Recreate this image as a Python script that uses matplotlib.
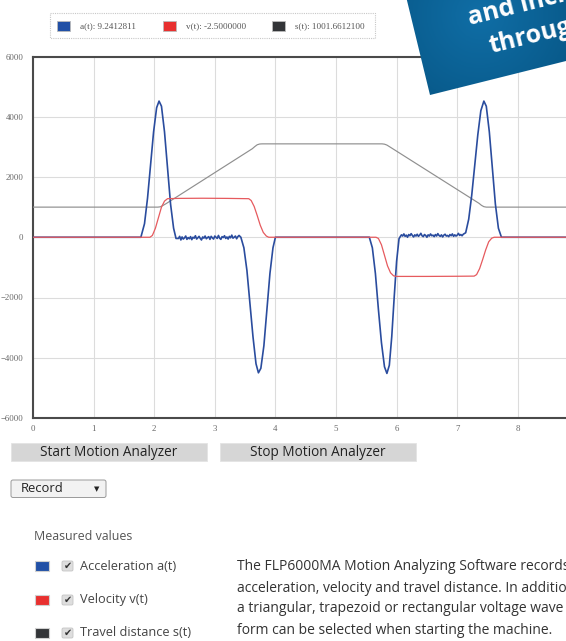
import numpy as np
import matplotlib.pyplot as plt
from matplotlib.patches import Polygon, Rectangle, FancyBboxPatch

# ---- data ----
# acceleration a(t): key points of the four pulses, noisy plateaus in between
acc_t_pulse1 = [0.0, 1.78, 1.84, 1.89, 1.94, 1.99, 2.04, 2.08, 2.12, 2.17, 2.22, 2.27, 2.32, 2.36]
acc_v_pulse1 = [0, 0, 450, 1300, 2400, 3500, 4300, 4520, 4350, 3500, 2300, 1100, 300, -40]
acc_noise1 = [-40, 30, -90, 10, -60, -20, 40, -70, -10, -50, 20, -80, 0, -30, 50, -60,
              -20, 30, -40, -90, 10, -30, 40, -50, -10, 20, -70, 30, -20, -60, 40, 0,
              -40, 60, -30, -70, 20, -10, 50, -40, 10, -60, 30, -20, 70, -30, 0, 40,
              -50, 20, 60]
acc_t_pulse2 = [3.43, 3.48, 3.53, 3.58, 3.63, 3.68, 3.72, 3.76, 3.81, 3.86, 3.91, 3.96, 4.00,
                5.55, 5.60, 5.65, 5.70, 5.75, 5.80, 5.84, 5.88, 5.92, 5.96, 6.00, 6.04]
acc_v_pulse2 = [0, -350, -1100, -2200, -3300, -4200, -4500, -4350, -3600, -2400, -1200, -350, 0,
                0, -350, -1200, -2400, -3500, -4300, -4520, -4250, -3300, -2000, -800, -50]
acc_noise2 = [20, 80, 40, 110, 30, 70, 0, 90, 50, 120, 60, 10, 80, 40, 100, 30, 70, 130,
              50, 20, 90, 60, 0, 80, 40, 110, 50, 70, 20, 90, 40, 120, 60, 30, 80, 10,
              70, 100, 40, 60, 20, 90, 50, 110, 30, 80, 40, 70, 130, 60, 90, 50, 100]
acc_t_pulse3 = [7.14, 7.19, 7.24, 7.29, 7.34, 7.39, 7.44, 7.48, 7.53, 7.58, 7.63, 7.68, 7.73, 10.0]
acc_v_pulse3 = [150, 600, 1400, 2400, 3400, 4200, 4520, 4350, 3500, 2300, 1100, 300, 0, 0]

# velocity v(t)
vel_t = [0.0, 1.93, 1.97, 2.02, 2.07, 2.12, 2.17, 2.22, 2.40, 2.80, 3.20, 3.56,
         3.60, 3.65, 3.70, 3.75, 3.80, 3.85, 3.89, 5.66, 5.70, 5.75, 5.80, 5.85,
         5.90, 5.95, 6.00, 6.50, 7.00, 7.28, 7.32, 7.37, 7.42, 7.47, 7.52, 7.57, 7.61, 10.0]
vel_v = [0, 0, 60, 300, 650, 1000, 1200, 1280, 1290, 1295, 1290, 1280,
         1220, 1020, 720, 400, 160, 40, 0, 0, -40, -250, -600, -950,
         -1180, -1280, -1300, -1300, -1295, -1290, -1240, -1040, -740, -420, -150, -30, 0, 0]

# travel distance s(t)
dist_t = [0.0, 2.06, 2.10, 2.14, 2.20, 3.62, 3.66, 3.70, 3.74, 3.78,
          5.76, 5.80, 5.84, 5.88, 7.36, 7.40, 7.44, 7.48, 10.0]
dist_v = [1000, 1000, 1010, 1050, 1120, 2940, 3010, 3070, 3095, 3100,
          3100, 3090, 3060, 3010, 1126, 1060, 1015, 1000, 1000]

x_ticks = [0, 1, 2, 3, 4, 5, 6, 7, 8]
y_ticks = [-6000, -4000, -2000, 0, 2000, 4000, 6000]

legend_labels = ['a(t): 9.2412811', 'v(t): -2.5000000', 's(t): 1001.6612100']
series_names = ['Acceleration a(t)', 'Velocity v(t)', 'Travel distance s(t)']
series_colors = ['#2150a6', '#e8302f', '#333538']

paragraph = ['The FLP6000MA Motion Analyzing Software records',
             'acceleration, velocity and travel distance. In addition',
             'a triangular, trapezoid or rectangular voltage wave',
             'form can be selected when starting the machine.']

# assemble acceleration series
acc_t = np.concatenate([acc_t_pulse1, np.linspace(2.40, 3.40, len(acc_noise1)),
                        acc_t_pulse2, np.linspace(6.06, 7.10, len(acc_noise2)), acc_t_pulse3])
acc_v = np.concatenate([acc_v_pulse1, acc_noise1, acc_v_pulse2, acc_noise2, acc_v_pulse3])

W, H = 566, 641
fig = plt.figure(figsize=(W / 100, H / 100), dpi=100)

# chart axes (wider than the figure - it is cut off on the right like the screenshot)
px_unit = 60.6
ax = fig.add_axes([33 / W, (H - 418) / H, 10 * px_unit / W, (418 - 56.5) / H])
ax.plot(dist_t, dist_v, color='#8f8f8f', lw=0.85, zorder=3)
ax.plot(acc_t, acc_v, color='#2a4c9e', lw=1.2, zorder=4)
ax.plot(vel_t, vel_v, color='#e65a5e', lw=0.9, zorder=5)

ax.set_xlim(0, 10)
ax.set_ylim(-6000, 6000)
ax.set_xticks(x_ticks)
ax.set_yticks(y_ticks)
ax.xaxis.grid(True, color='#dcdcdc', lw=0.8)
ax.yaxis.grid(True, color='#dcdcdc', lw=0.8)
# grid line at 9 has no label in the screenshot
ax.axvline(9, color='#dcdcdc', lw=0.8, zorder=0)
ax.tick_params(length=0, labelsize=6.3, labelcolor='#666666')
ax.tick_params(axis='y', pad=7)
ax.tick_params(axis='x', pad=5)
for lab in ax.get_xticklabels() + ax.get_yticklabels():
    lab.set_family('Liberation Serif')
for side in ['left', 'top', 'bottom']:
    ax.spines[side].set_color('#4a4a4a')
    ax.spines[side].set_linewidth(1.5)
ax.spines['right'].set_visible(False)

# overlay in pixel coordinates for the page elements
ui = fig.add_axes([0, 0, 1, 1])
ui.patch.set_alpha(0)
ui.axis('off')

# legend box on top
ui.add_patch(Rectangle((50, 13), 325, 25, fill=False, ec='#c8c8c8', lw=0.8, ls=(0, (1, 1))))
for i, (lab, col) in enumerate(zip(legend_labels, series_colors)):
    x0 = [57, 163, 272][i]
    ui.add_patch(Rectangle((x0, 21), 13, 10, fc=col, ec='#bbbbbb', lw=0.6))
    ui.text(x0 + 23, 26.5, lab, family='Liberation Serif', fontsize=6.6,
            color='#555555', va='center', ha='left')

# buttons
for x0, txt in [(11, 'Start Motion Analyzer'), (220, 'Stop Motion Analyzer')]:
    ui.add_patch(Rectangle((x0, 443), 196, 17.5, fc='#d6d6d6', ec='#e4e4e4', lw=0.6))
    ui.text(x0 + 98, 452, txt, family='Open Sans', fontsize=9.8, color='#222222',
            ha='center', va='center')

# dropdown
ui.add_patch(FancyBboxPatch((11, 480), 95, 17.5, boxstyle='round,pad=0,rounding_size=2',
                            fc='#f2f2f2', ec='#9a9a9a', lw=0.7))
ui.text(21, 489, 'Record', family='Open Sans', fontsize=9.4, color='#222222', va='center')
ui.text(97, 489, '\u25BC', family='DejaVu Sans', fontsize=5, color='#222222',
        ha='center', va='center')

# measured values list
ui.text(34, 537, 'Measured values', family='Open Sans', fontsize=8.9, color='#555555',
        va='center')
for y, name, col in zip([566, 600, 633], series_names, series_colors):
    ui.add_patch(Rectangle((35, y - 5), 14, 10, fc=col, ec='#d0d0d0', lw=0.8))
    ui.add_patch(FancyBboxPatch((62, y - 5), 11, 10, boxstyle='round,pad=0,rounding_size=1.5',
                                fc='#dedede', ec='#c4c4c4', lw=0.6))
    ui.text(67.5, y, '\u2714', family='DejaVu Sans', fontsize=7, color='#333333',
            ha='center', va='center')
    ui.text(80, y, name, family='Open Sans', fontsize=9.2, color='#444444', va='center')

for i, line in enumerate(paragraph):
    ui.text(237, 567 + 21 * i, line, family='Open Sans', fontsize=10, color='#333333',
            va='center')

# blue banner in the top right corner
banner = Polygon([(430, 95), (730, 20), (700, -110), (402, -20)], closed=True,
                 fc='none', ec='none')
ui.add_patch(banner)
gx, gy = np.meshgrid(np.linspace(380, 730, 200), np.linspace(-120, 120, 140))
r = np.hypot(gx - 480, gy - 15) / 200
shade = np.clip(r, 0, 1)
c0 = np.array([0x10, 0x6e, 0xa6]) / 255
c1 = np.array([0x00, 0x45, 0x6e]) / 255
img = c0[None, None, :] * (1 - shade[..., None]) + c1[None, None, :] * shade[..., None]
im = ui.imshow(img, extent=(380, 730, 120, -120), origin='upper', aspect='auto', zorder=5)
im.set_clip_path(banner)
ui.text(470, 25, 'and increased', family='Open Sans', weight='bold', fontsize=18,
        color='white', rotation=14, rotation_mode='anchor', ha='left', va='baseline', zorder=6)
ui.text(491, 53, 'through', family='Open Sans', weight='bold', fontsize=18,
        color='white', rotation=14, rotation_mode='anchor', ha='left', va='baseline', zorder=6)

ui.set_xlim(0, W)
ui.set_ylim(H, 0)

fig.savefig('out.png', dpi=100)
